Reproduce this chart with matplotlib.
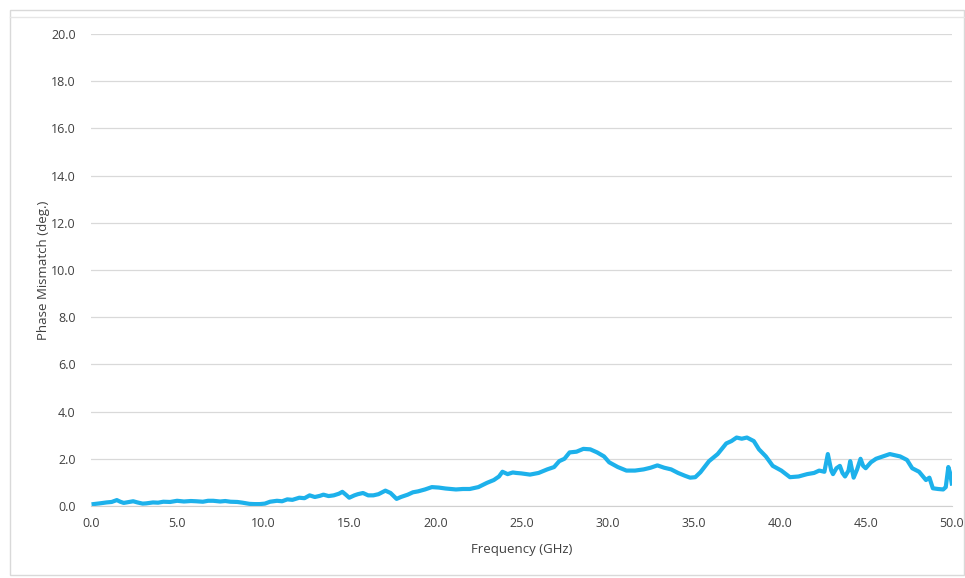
import matplotlib.pyplot as plt
from matplotlib.patches import Rectangle
from matplotlib.lines import Line2D

# frequency (GHz) and phase mismatch (deg.)
freq = [0.15, 0.5, 0.9, 1.2, 1.5, 1.7, 1.9, 2.2, 2.45, 2.7, 3.0, 3.2, 3.6, 3.9, 4.2, 4.6,
        5.0, 5.4, 5.8, 6.1, 6.5, 6.8, 7.1, 7.5, 7.8, 8.1, 8.5, 8.8, 9.2, 9.5, 9.8,
        10.1, 10.4, 10.8, 11.1, 11.4, 11.7, 12.1, 12.4, 12.7, 13.0, 13.3, 13.5, 13.8,
        14.1, 14.4, 14.6, 14.8, 15.0, 15.3, 15.5, 15.8, 16.1, 16.4, 16.7, 17.1, 17.4,
        17.75, 18.0, 18.4, 18.7, 19.0, 19.4, 19.8, 20.2, 20.6, 21.2, 21.6, 22.0, 22.5,
        23.0, 23.4, 23.7, 23.9, 24.2, 24.5, 24.7, 25.0, 25.5, 26.0, 26.5, 26.9, 27.2,
        27.5, 27.8, 28.2, 28.6, 29.0, 29.4, 29.8, 30.1, 30.6, 31.1, 31.6, 32.1, 32.5,
        32.9, 33.3, 33.7, 34.1, 34.5, 34.8, 35.1, 35.4, 35.9, 36.4, 36.9, 37.2, 37.5,
        37.8, 38.1, 38.5, 38.8, 39.2, 39.6, 40.1, 40.6, 41.1, 41.6, 42.0, 42.3, 42.6,
        42.8, 43.0, 43.1, 43.3, 43.5, 43.65, 43.8, 44.0, 44.1, 44.3, 44.5, 44.7, 44.85,
        45.0, 45.3, 45.6, 46.0, 46.4, 46.7, 47.0, 47.4, 47.7, 48.1, 48.5, 48.7, 48.9,
        49.2, 49.5, 49.65, 49.8, 49.9, 50.0]
mismatch = [0.08, 0.11, 0.15, 0.17, 0.25, 0.18, 0.13, 0.17, 0.2, 0.15, 0.1, 0.11, 0.15, 0.14, 0.18, 0.17,
            0.22, 0.19, 0.21, 0.2, 0.18, 0.22, 0.22, 0.19, 0.21, 0.18, 0.17, 0.14, 0.09, 0.08, 0.08,
            0.1, 0.18, 0.22, 0.2, 0.28, 0.26, 0.35, 0.33, 0.45, 0.38, 0.43, 0.48, 0.42,
            0.45, 0.52, 0.6, 0.48, 0.35, 0.45, 0.5, 0.55, 0.45, 0.45, 0.5, 0.65, 0.55,
            0.3, 0.38, 0.48, 0.58, 0.62, 0.7, 0.8, 0.78, 0.74, 0.7, 0.72, 0.72, 0.8,
            0.98, 1.1, 1.25, 1.45, 1.35, 1.42, 1.4, 1.38, 1.33, 1.4, 1.55, 1.65, 1.9,
            2.0, 2.27, 2.3, 2.42, 2.4, 2.27, 2.1, 1.85, 1.65, 1.5, 1.5, 1.55, 1.62,
            1.72, 1.62, 1.55, 1.4, 1.28, 1.2, 1.22, 1.43, 1.9, 2.2, 2.65, 2.75, 2.9,
            2.85, 2.9, 2.75, 2.4, 2.1, 1.7, 1.5, 1.22, 1.25, 1.35, 1.4, 1.5, 1.45,
            2.2, 1.5, 1.35, 1.6, 1.7, 1.4, 1.25, 1.5, 1.9, 1.2, 1.55, 2.0, 1.7,
            1.6, 1.85, 2.0, 2.1, 2.2, 2.15, 2.1, 1.95, 1.6, 1.45, 1.1, 1.2, 0.75,
            0.72, 0.7, 0.8, 1.65, 1.4, 0.95]

fig = plt.figure(figsize=(9.65, 5.78), dpi=100)
ax = fig.add_axes([0.0943, 0.1246, 0.892, 0.8166])

ax.plot(freq, mismatch, color='#1DB1EB', linewidth=3.0, solid_joinstyle='round')

ax.set_xlim(0, 50)
ax.set_ylim(0, 20)
ax.set_xticks([0, 5, 10, 15, 20, 25, 30, 35, 40, 45, 50])
ax.set_yticks([0, 2, 4, 6, 8, 10, 12, 14, 16, 18, 20])
ax.set_xticklabels(['%.1f' % v for v in ax.get_xticks()])
ax.set_yticklabels(['%.1f' % v for v in ax.get_yticks()])
ax.tick_params(axis='both', length=0, labelsize=9, labelcolor='#404040')
ax.tick_params(axis='y', pad=11)
ax.tick_params(axis='x', pad=8)
for lbl in ax.get_xticklabels() + ax.get_yticklabels():
    lbl.set_family('Open Sans')

ax.grid(axis='y', color='#D9D9D9', linewidth=0.9)
ax.set_axisbelow(True)
for s in ['top', 'right', 'left']:
    ax.spines[s].set_visible(False)
ax.spines['bottom'].set_color('#D0D0D0')

ax.set_xlabel('Frequency (GHz)', fontsize=9.5, color='#404040', family='Open Sans', labelpad=9)
ax.set_ylabel('Phase Mismatch (deg.)', fontsize=9.5, color='#404040', family='Open Sans', labelpad=1)

# outer chart frame
fig.patches.append(Rectangle((10 / 965, 3 / 578), 954 / 965, 565 / 578, transform=fig.transFigure,
                             fill=False, edgecolor='#D9D9D9', linewidth=1))
fig.lines.append(Line2D([10 / 965, 1], [1 - 17 / 578, 1 - 17 / 578], transform=fig.transFigure,
                        color='#E6E6E6', linewidth=1))

plt.savefig('out.png', dpi=100)
